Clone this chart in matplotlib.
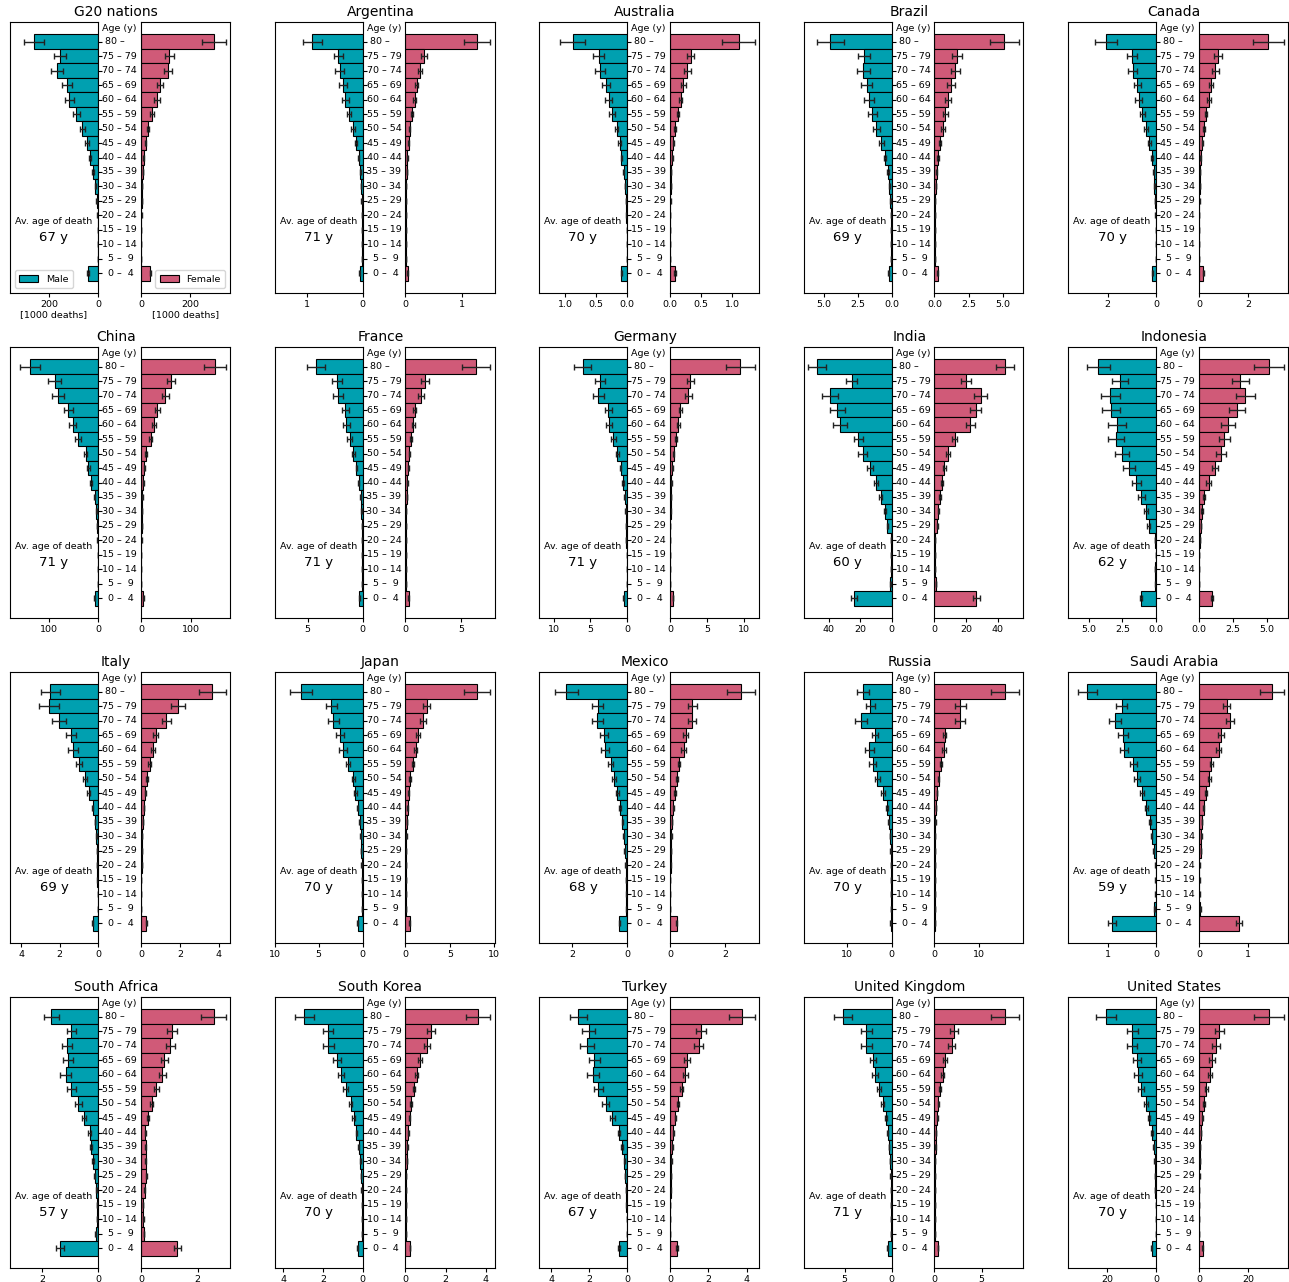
import numpy as np
import matplotlib
matplotlib.use("Agg")
import matplotlib.pyplot as plt
from matplotlib.ticker import MaxNLocator
from matplotlib.transforms import blended_transform_factory

# Age groups, oldest first (as read top to bottom)
age_lo = [80, 75, 70, 65, 60, 55, 50, 45, 40, 35, 30, 25, 20, 15, 10, 5, 0]
age_hi = ['', 79, 74, 69, 64, 59, 54, 49, 44, 39, 34, 29, 24, 19, 14, 9, 4]

countries = ['G20 nations', 'Argentina', 'Australia', 'Brazil', 'Canada',
             'China', 'France', 'Germany', 'India', 'Indonesia',
             'Italy', 'Japan', 'Mexico', 'Russia', 'Saudi Arabia',
             'South Africa', 'South Korea', 'Turkey', 'United Kingdom', 'United States']
avg_age = [67, 71, 70, 69, 70, 71, 71, 71, 60, 62, 69, 70, 68, 70, 59, 57, 70, 67, 71, 70]

# deaths [1000], oldest age group first
g20_m = [261, 156, 167, 128, 118, 88, 64, 44, 33, 21, 11, 6, 2, 1.5, 1, 1.5, 40]
g20_m_err = [40, 25, 24, 21, 19, 15, 11, 8, 5, 3, 2, 1, 0.5, 0.3, 0.2, 0.3, 4]
g20_f = [295, 114, 110, 77, 64, 45, 29, 19, 12, 8, 5, 3, 2, 1, 1, 1, 38]
g20_f_err = [48, 18, 17, 13, 11, 7, 4, 3, 2, 1, 1, 0.5, 0.3, 0.2, 0.2, 0.2, 3]

arg_m = [0.90, 0.43, 0.41, 0.35, 0.31, 0.24, 0.17, 0.11, 0.067, 0.04, 0.025, 0.015, 0.01, 0.008, 0.005, 0.005, 0.05]
arg_m_err = [0.17, 0.085, 0.08, 0.07, 0.06, 0.04, 0.03, 0.02, 0.01, 0.006, 0.004, 0.003, 0.002, 0.001, 0.001, 0.001, 0.006]
arg_f = [1.27, 0.33, 0.26, 0.20, 0.16, 0.11, 0.075, 0.055, 0.035, 0.025, 0.015, 0.01, 0.007, 0.005, 0.004, 0.004, 0.04]
arg_f_err = [0.23, 0.05, 0.04, 0.03, 0.02, 0.015, 0.01, 0.007, 0.005, 0.004, 0.002, 0.002, 0.001, 0.001, 0.001, 0.001, 0.005]

aus_m = [0.88, 0.46, 0.44, 0.34, 0.30, 0.24, 0.17, 0.12, 0.09, 0.055, 0.033, 0.02, 0.01, 0.006, 0.004, 0.004, 0.09]
aus_m_err = [0.2, 0.09, 0.08, 0.065, 0.06, 0.045, 0.03, 0.02, 0.015, 0.01, 0.006, 0.004, 0.002, 0.001, 0.001, 0.001, 0.01]
aus_f = [1.10, 0.33, 0.28, 0.21, 0.17, 0.13, 0.08, 0.055, 0.04, 0.02, 0.012, 0.008, 0.005, 0.004, 0.003, 0.003, 0.08]
aus_f_err = [0.26, 0.06, 0.05, 0.04, 0.03, 0.02, 0.015, 0.01, 0.007, 0.004, 0.002, 0.002, 0.001, 0.001, 0.001, 0.001, 0.01]

bra_m = [4.5, 2.0, 2.08, 1.83, 1.66, 1.41, 1.11, 0.74, 0.47, 0.27, 0.15, 0.08, 0.04, 0.03, 0.02, 0.02, 0.22]
bra_m_err = [0.98, 0.45, 0.46, 0.41, 0.4, 0.33, 0.27, 0.17, 0.1, 0.06, 0.03, 0.02, 0.01, 0.006, 0.004, 0.004, 0.03]
bra_f = [5.1, 1.65, 1.53, 1.2, 0.99, 0.79, 0.64, 0.42, 0.27, 0.17, 0.1, 0.06, 0.03, 0.02, 0.02, 0.02, 0.22]
bra_f_err = [1.08, 0.37, 0.34, 0.27, 0.22, 0.17, 0.14, 0.09, 0.06, 0.03, 0.02, 0.01, 0.006, 0.004, 0.004, 0.004, 0.03]

can_m = [2.07, 0.99, 0.97, 0.77, 0.71, 0.56, 0.41, 0.27, 0.17, 0.10, 0.07, 0.045, 0.02, 0.015, 0.01, 0.01, 0.15]
can_m_err = [0.46, 0.21, 0.2, 0.16, 0.15, 0.11, 0.07, 0.05, 0.03, 0.02, 0.01, 0.008, 0.004, 0.003, 0.002, 0.002, 0.02]
can_f = [2.84, 0.77, 0.66, 0.49, 0.42, 0.29, 0.2, 0.13, 0.07, 0.04, 0.025, 0.02, 0.01, 0.008, 0.005, 0.005, 0.17]
can_f_err = [0.63, 0.17, 0.14, 0.1, 0.08, 0.05, 0.03, 0.02, 0.01, 0.006, 0.004, 0.003, 0.002, 0.001, 0.001, 0.001, 0.02]

chn_m = [139, 88, 82, 61, 52, 41, 25, 20, 14, 7, 3.5, 2, 1, 0.5, 0.5, 0.5, 7]
chn_m_err = [20, 13, 12, 9, 8, 6, 3, 3, 2, 1, 0.5, 0.3, 0.2, 0.1, 0.1, 0.1, 1]
chn_f = [149, 60, 49, 33, 26, 20, 11, 7, 5, 3, 2, 1.5, 1, 0.5, 0.5, 0.5, 5]
chn_f_err = [22, 8, 7, 5, 4, 3, 2, 1, 1, 0.5, 0.3, 0.2, 0.2, 0.1, 0.1, 0.1, 1]

fra_m = [4.23, 2.3, 2.24, 1.56, 1.47, 1.17, 0.83, 0.55, 0.34, 0.18, 0.1, 0.06, 0.04, 0.03, 0.02, 0.02, 0.28]
fra_m_err = [0.86, 0.47, 0.45, 0.3, 0.3, 0.2, 0.13, 0.08, 0.05, 0.03, 0.015, 0.01, 0.006, 0.004, 0.003, 0.003, 0.03]
fra_f = [6.36, 1.76, 1.39, 0.83, 0.71, 0.49, 0.34, 0.25, 0.18, 0.12, 0.07, 0.04, 0.03, 0.02, 0.01, 0.01, 0.28]
fra_f_err = [1.27, 0.38, 0.28, 0.15, 0.12, 0.08, 0.05, 0.03, 0.02, 0.015, 0.01, 0.006, 0.004, 0.003, 0.002, 0.002, 0.03]

ger_m = [6.04, 3.64, 3.92, 2.53, 2.4, 1.84, 1.34, 0.88, 0.55, 0.32, 0.2, 0.13, 0.08, 0.05, 0.03, 0.03, 0.46]
ger_m_err = [1.18, 0.67, 0.78, 0.42, 0.4, 0.3, 0.2, 0.13, 0.08, 0.05, 0.03, 0.02, 0.01, 0.007, 0.005, 0.005, 0.05]
ger_f = [9.49, 2.76, 2.49, 1.38, 1.1, 0.78, 0.51, 0.32, 0.19, 0.11, 0.07, 0.05, 0.03, 0.02, 0.015, 0.015, 0.41]
ger_f_err = [1.93, 0.5, 0.45, 0.22, 0.18, 0.12, 0.07, 0.05, 0.03, 0.015, 0.01, 0.007, 0.004, 0.003, 0.002, 0.002, 0.05]

ind_m = [47.5, 25.5, 39.4, 34.7, 33.0, 21.2, 18.4, 13.5, 9.8, 7.0, 3.9, 2.6, 0.5, 0.3, 0.4, 0.7, 24.0]
ind_m_err = [6.0, 3.6, 5.0, 4.7, 4.6, 3.0, 2.8, 2.0, 1.5, 1.0, 0.6, 0.4, 0.1, 0.05, 0.06, 0.1, 2.0]
ind_f = [44.3, 20.0, 29.1, 26.0, 22.6, 12.8, 8.5, 6.3, 4.6, 3.5, 2.4, 1.7, 0.5, 0.3, 0.3, 0.9, 26.5]
ind_f_err = [5.7, 3.0, 3.9, 3.5, 3.0, 1.5, 1.0, 0.8, 0.5, 0.4, 0.3, 0.3, 0.1, 0.05, 0.05, 0.1, 2.5]

idn_m = [4.29, 2.68, 3.39, 3.32, 2.93, 2.98, 2.5, 1.99, 1.48, 1.1, 0.71, 0.54, 0.05, 0.03, 0.05, 0.04, 1.12]
idn_m_err = [0.85, 0.57, 0.7, 0.68, 0.67, 0.62, 0.52, 0.43, 0.33, 0.25, 0.15, 0.1, 0.01, 0.005, 0.01, 0.01, 0.1]
idn_f = [5.15, 3.04, 3.39, 2.81, 2.14, 1.86, 1.61, 1.18, 0.7, 0.38, 0.23, 0.15, 0.05, 0.03, 0.03, 0.03, 0.95]
idn_f_err = [1.08, 0.65, 0.7, 0.6, 0.5, 0.4, 0.35, 0.25, 0.15, 0.08, 0.05, 0.03, 0.01, 0.005, 0.005, 0.005, 0.1]

ita_m = [2.48, 2.53, 2.04, 1.42, 1.31, 0.99, 0.69, 0.48, 0.28, 0.16, 0.09, 0.05, 0.04, 0.03, 0.02, 0.02, 0.28]
ita_m_err = [0.48, 0.52, 0.37, 0.27, 0.26, 0.17, 0.11, 0.07, 0.04, 0.02, 0.015, 0.01, 0.006, 0.004, 0.003, 0.003, 0.03]
ita_f = [3.67, 1.9, 1.29, 0.76, 0.63, 0.44, 0.33, 0.23, 0.16, 0.1, 0.06, 0.04, 0.03, 0.02, 0.015, 0.015, 0.28]
ita_f_err = [0.69, 0.38, 0.23, 0.13, 0.1, 0.07, 0.05, 0.03, 0.02, 0.015, 0.01, 0.006, 0.004, 0.003, 0.002, 0.002, 0.03]

jpn_m = [7.0, 3.56, 3.33, 2.53, 2.22, 1.65, 1.07, 0.8, 0.54, 0.34, 0.22, 0.15, 0.1, 0.06, 0.04, 0.04, 0.54]
jpn_m_err = [1.23, 0.63, 0.6, 0.45, 0.4, 0.27, 0.17, 0.12, 0.08, 0.05, 0.03, 0.02, 0.015, 0.01, 0.006, 0.006, 0.06]
jpn_f = [8.08, 2.38, 2.0, 1.38, 1.15, 0.81, 0.5, 0.35, 0.23, 0.15, 0.1, 0.07, 0.05, 0.03, 0.02, 0.02, 0.5]
jpn_f_err = [1.46, 0.42, 0.35, 0.23, 0.19, 0.12, 0.07, 0.05, 0.03, 0.02, 0.015, 0.01, 0.007, 0.004, 0.003, 0.003, 0.05]

mex_m = [2.23, 1.08, 1.09, 0.85, 0.8, 0.6, 0.49, 0.36, 0.25, 0.17, 0.12, 0.09, 0.05, 0.03, 0.02, 0.02, 0.28]
mex_m_err = [0.42, 0.21, 0.21, 0.15, 0.14, 0.1, 0.07, 0.05, 0.03, 0.02, 0.015, 0.01, 0.006, 0.004, 0.003, 0.003, 0.03]
mex_f = [2.57, 0.81, 0.8, 0.57, 0.49, 0.33, 0.25, 0.17, 0.12, 0.08, 0.05, 0.04, 0.02, 0.015, 0.01, 0.01, 0.24]
mex_f_err = [0.5, 0.15, 0.15, 0.1, 0.09, 0.05, 0.04, 0.03, 0.02, 0.01, 0.007, 0.005, 0.003, 0.002, 0.002, 0.002, 0.03]

rus_m = [6.4, 4.77, 6.77, 3.7, 5.0, 4.23, 3.23, 1.92, 1.0, 0.6, 0.38, 0.2, 0.12, 0.06, 0.03, 0.03, 0.2]
rus_m_err = [1.3, 1.0, 1.35, 0.7, 1.0, 0.8, 0.6, 0.35, 0.2, 0.1, 0.06, 0.03, 0.02, 0.01, 0.005, 0.005, 0.03]
rus_f = [15.7, 5.77, 5.7, 2.23, 2.15, 1.4, 0.9, 0.55, 0.3, 0.2, 0.12, 0.07, 0.04, 0.03, 0.02, 0.02, 0.17]
rus_f_err = [3.2, 1.2, 1.1, 0.4, 0.4, 0.25, 0.15, 0.1, 0.05, 0.03, 0.02, 0.01, 0.006, 0.004, 0.003, 0.003, 0.02]

sau_m = [1.42, 0.71, 0.84, 0.68, 0.66, 0.47, 0.4, 0.29, 0.2, 0.13, 0.09, 0.05, 0.01, 0.01, 0.01, 0.035, 0.91]
sau_m_err = [0.2, 0.11, 0.12, 0.1, 0.09, 0.07, 0.06, 0.04, 0.03, 0.02, 0.015, 0.01, 0.002, 0.002, 0.002, 0.005, 0.08]
sau_f = [1.49, 0.57, 0.64, 0.45, 0.4, 0.25, 0.21, 0.15, 0.1, 0.06, 0.05, 0.04, 0.01, 0.01, 0.01, 0.03, 0.81]
sau_f_err = [0.24, 0.07, 0.08, 0.06, 0.05, 0.03, 0.03, 0.02, 0.01, 0.008, 0.006, 0.005, 0.002, 0.002, 0.002, 0.004, 0.06]

zaf_m = [1.68, 0.95, 1.1, 1.07, 1.16, 0.95, 0.71, 0.49, 0.3, 0.24, 0.18, 0.12, 0.06, 0.025, 0.045, 0.08, 1.35]
zaf_m_err = [0.27, 0.16, 0.18, 0.18, 0.19, 0.16, 0.12, 0.07, 0.05, 0.04, 0.03, 0.02, 0.01, 0.004, 0.007, 0.01, 0.15]
zaf_f = [2.57, 1.1, 1.04, 0.83, 0.75, 0.54, 0.38, 0.25, 0.15, 0.17, 0.17, 0.19, 0.13, 0.07, 0.08, 0.1, 1.29]
zaf_f_err = [0.43, 0.18, 0.17, 0.13, 0.12, 0.08, 0.06, 0.04, 0.02, 0.02, 0.02, 0.03, 0.02, 0.01, 0.01, 0.01, 0.12]

kor_m = [2.93, 1.73, 1.73, 1.3, 1.08, 0.84, 0.6, 0.45, 0.31, 0.19, 0.12, 0.07, 0.05, 0.03, 0.02, 0.02, 0.24]
kor_m_err = [0.48, 0.26, 0.27, 0.2, 0.17, 0.13, 0.09, 0.06, 0.04, 0.03, 0.02, 0.01, 0.007, 0.004, 0.003, 0.003, 0.03]
kor_f = [3.63, 1.26, 1.06, 0.7, 0.56, 0.41, 0.27, 0.2, 0.14, 0.09, 0.06, 0.04, 0.02, 0.015, 0.01, 0.01, 0.22]
kor_f_err = [0.6, 0.2, 0.16, 0.1, 0.08, 0.06, 0.04, 0.03, 0.02, 0.015, 0.01, 0.006, 0.003, 0.002, 0.002, 0.002, 0.02]

tur_m = [2.56, 2.03, 2.13, 1.72, 1.8, 1.51, 1.13, 0.77, 0.44, 0.26, 0.15, 0.1, 0.05, 0.03, 0.02, 0.02, 0.41]
tur_m_err = [0.46, 0.36, 0.37, 0.28, 0.3, 0.25, 0.18, 0.12, 0.06, 0.04, 0.02, 0.015, 0.008, 0.005, 0.003, 0.003, 0.04]
tur_f = [3.74, 1.62, 1.49, 0.9, 0.8, 0.6, 0.41, 0.28, 0.18, 0.12, 0.07, 0.05, 0.03, 0.02, 0.015, 0.015, 0.36]
tur_f_err = [0.68, 0.28, 0.25, 0.15, 0.13, 0.09, 0.06, 0.04, 0.03, 0.02, 0.01, 0.007, 0.004, 0.003, 0.002, 0.002, 0.04]

gbr_m = [5.2, 2.68, 2.68, 1.96, 1.8, 1.34, 0.93, 0.62, 0.41, 0.26, 0.15, 0.1, 0.06, 0.04, 0.03, 0.03, 0.4]
gbr_m_err = [0.98, 0.55, 0.55, 0.35, 0.32, 0.22, 0.15, 0.1, 0.06, 0.04, 0.02, 0.015, 0.01, 0.006, 0.004, 0.004, 0.04]
gbr_f = [7.47, 2.06, 1.8, 1.08, 0.88, 0.57, 0.41, 0.28, 0.18, 0.11, 0.07, 0.05, 0.03, 0.02, 0.015, 0.015, 0.38]
gbr_f_err = [1.5, 0.38, 0.33, 0.2, 0.15, 0.09, 0.06, 0.04, 0.03, 0.015, 0.01, 0.007, 0.004, 0.003, 0.002, 0.002, 0.04]

usa_m = [20.6, 9.7, 9.9, 7.9, 7.5, 6.1, 4.2, 2.8, 1.6, 1.0, 0.6, 0.4, 0.25, 0.15, 0.1, 0.1, 1.8]
usa_m_err = [4.2, 2.2, 2.2, 1.7, 1.6, 1.2, 0.8, 0.5, 0.3, 0.2, 0.1, 0.07, 0.04, 0.02, 0.015, 0.015, 0.2]
usa_f = [28.3, 8.3, 6.9, 5.3, 4.4, 3.0, 2.2, 1.4, 0.8, 0.5, 0.3, 0.2, 0.12, 0.08, 0.06, 0.06, 1.6]
usa_f_err = [6.1, 1.8, 1.5, 1.1, 0.9, 0.6, 0.4, 0.3, 0.15, 0.08, 0.05, 0.03, 0.02, 0.01, 0.01, 0.01, 0.2]

data = [
    (g20_m, g20_m_err, g20_f, g20_f_err), (arg_m, arg_m_err, arg_f, arg_f_err),
    (aus_m, aus_m_err, aus_f, aus_f_err), (bra_m, bra_m_err, bra_f, bra_f_err),
    (can_m, can_m_err, can_f, can_f_err), (chn_m, chn_m_err, chn_f, chn_f_err),
    (fra_m, fra_m_err, fra_f, fra_f_err), (ger_m, ger_m_err, ger_f, ger_f_err),
    (ind_m, ind_m_err, ind_f, ind_f_err), (idn_m, idn_m_err, idn_f, idn_f_err),
    (ita_m, ita_m_err, ita_f, ita_f_err), (jpn_m, jpn_m_err, jpn_f, jpn_f_err),
    (mex_m, mex_m_err, mex_f, mex_f_err), (rus_m, rus_m_err, rus_f, rus_f_err),
    (sau_m, sau_m_err, sau_f, sau_f_err), (zaf_m, zaf_m_err, zaf_f, zaf_f_err),
    (kor_m, kor_m_err, kor_f, kor_f_err), (tur_m, tur_m_err, tur_f, tur_f_err),
    (gbr_m, gbr_m_err, gbr_f, gbr_f_err), (usa_m, usa_m_err, usa_f, usa_f_err),
]

MALE_C = '#00A0B0'
FEMALE_C = '#D05A78'
FS = 6.8

age_labels = [f"{lo:>2} – {hi:>2}" for lo, hi in zip(age_lo, age_hi)]
ypos = np.arange(len(age_lo))[::-1]

W, H = 1289, 1282
fig = plt.figure(figsize=(W / 100, H / 100), dpi=100)

err_kw = dict(ecolor='#222222', elinewidth=1.0, capsize=2, capthick=1.0)

for k, name in enumerate(countries):
    r, c = divmod(k, 5)
    lx = 10 + 264.5 * c
    top = 22 + 325 * r
    ah = 271
    y0 = 1 - (top + ah) / H
    axm = fig.add_axes([lx / W, y0, 88 / W, ah / H])
    axf = fig.add_axes([(lx + 131) / W, y0, 89 / W, ah / H])

    m, me, f, fe = [np.asarray(a, dtype=float) for a in data[k]]
    xmax = 1.05 * max((m + me).max(), (f + fe).max())

    axm.barh(ypos, m, height=1, xerr=me, color=MALE_C, edgecolor='black',
             linewidth=0.8, error_kw=err_kw, label='Male')
    axf.barh(ypos, f, height=1, xerr=fe, color=FEMALE_C, edgecolor='black',
             linewidth=0.8, error_kw=err_kw, label='Female')

    axm.set_xlim(xmax, 0)
    axf.set_xlim(0, xmax)
    for ax in (axm, axf):
        ax.set_ylim(-1.35, 17.35)
        ax.xaxis.set_major_locator(MaxNLocator(nbins=3, steps=[1, 2, 2.5, 5, 10]))
        ax.tick_params(axis='x', labelsize=FS, length=3, width=0.8, pad=2)
        for sp in ax.spines.values():
            sp.set_linewidth(0.8)
    axm.set_yticks(ypos)
    axm.yaxis.tick_right()
    axm.tick_params(axis='y', labelright=False, labelleft=False, length=3, width=0.8)
    axf.set_yticks([])

    # age labels centred in the gap between the two axes
    xc = (lx + 88 + lx + 131) / 2 / W
    tr = blended_transform_factory(fig.transFigure, axm.transData)
    for yy, lab in zip(ypos, age_labels):
        fig.text(xc, yy, lab, transform=tr, ha='center', va='center', fontsize=FS)
    fig.text(xc, 16.87, 'Age (y)', transform=tr, ha='center', va='center', fontsize=FS)

    trm = blended_transform_factory(axm.transAxes, axm.transData)
    axm.text(0.5, 3.55, 'Av. age of death', transform=trm, ha='center', va='center', fontsize=FS)
    axm.text(0.5, 2.45, f'{avg_age[k]} y', transform=trm, ha='center', va='center', fontsize=9.5)

    fig.text((lx + 110 - 4) / W, 1 - (top - 3) / H, name, ha='center', va='bottom', fontsize=10)

    if k == 0:
        axm.legend(loc='lower left', fontsize=FS, handlelength=2.0, borderpad=0.5)
        axf.legend(loc='lower right', fontsize=FS, handlelength=2.0, borderpad=0.5)
        axm.set_xlabel('[1000 deaths]', fontsize=FS, labelpad=1)
        axf.set_xlabel('[1000 deaths]', fontsize=FS, labelpad=1)

fig.savefig('out.png', dpi=100)
